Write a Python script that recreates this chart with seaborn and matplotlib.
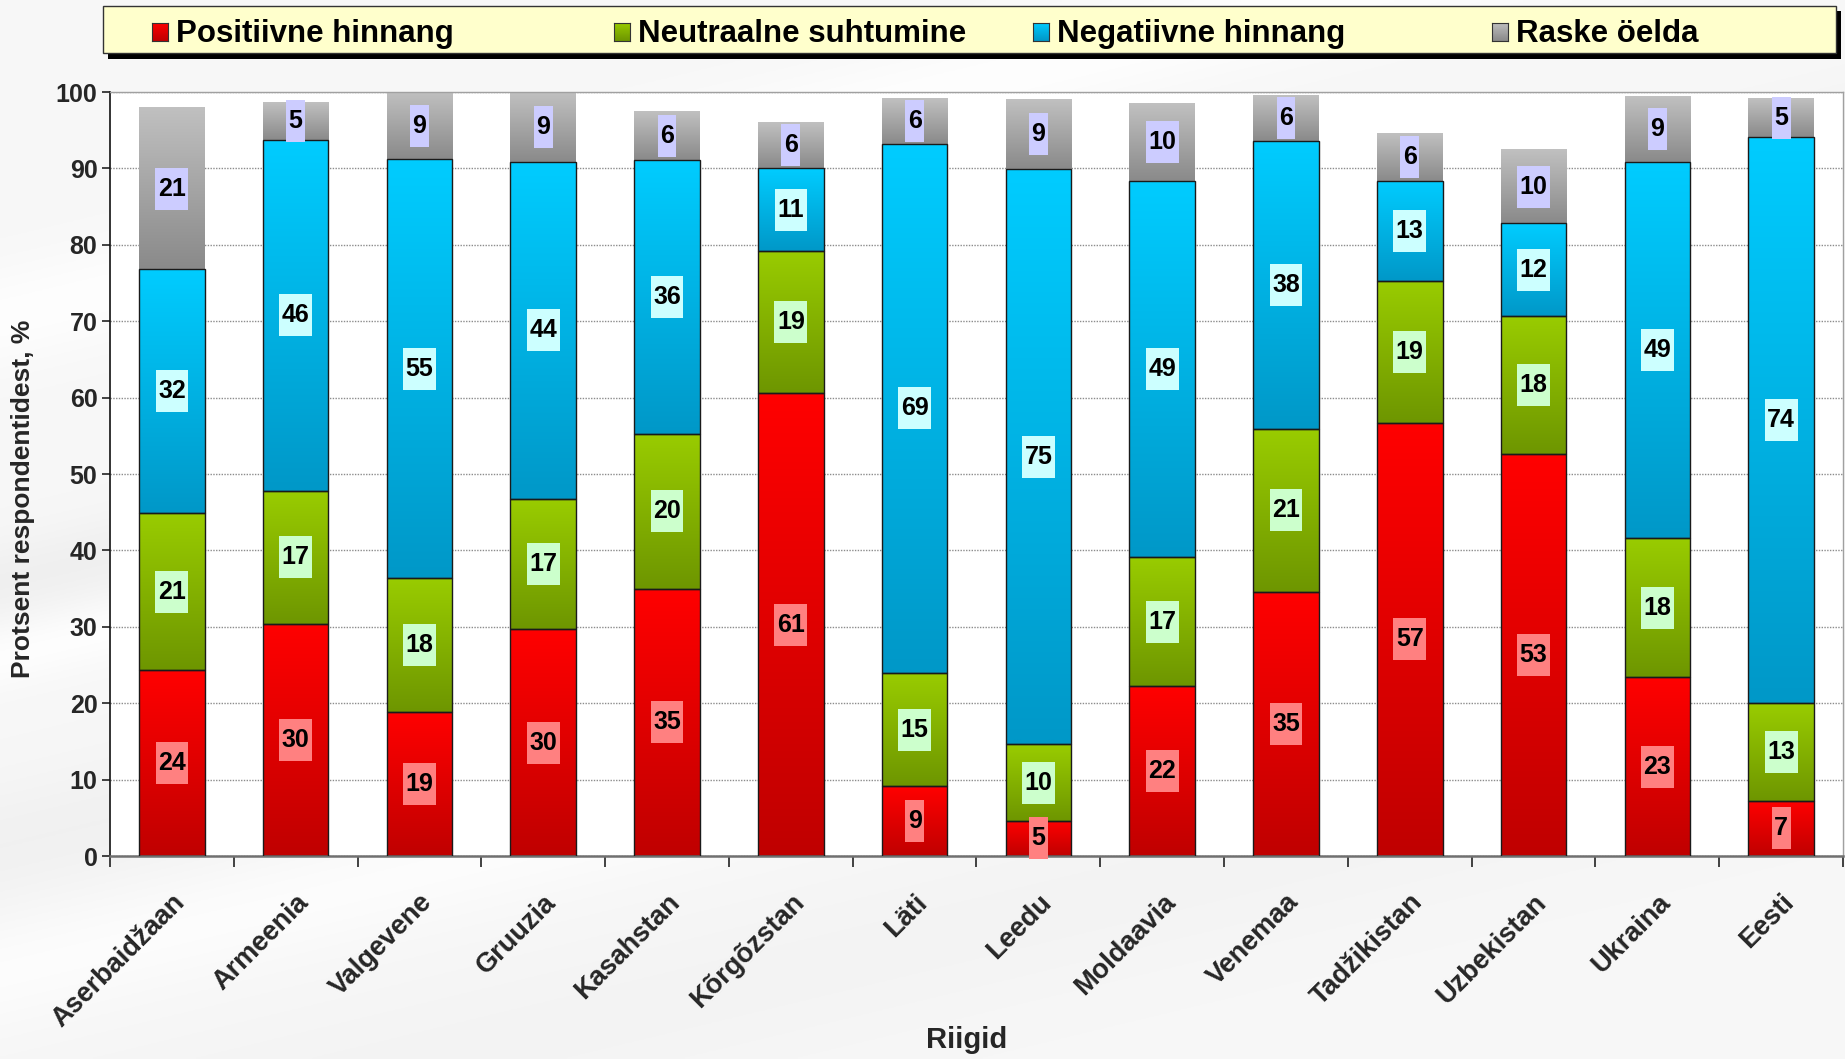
import numpy as np
import pandas as pd
import seaborn as sns
import matplotlib.pyplot as plt
from matplotlib.patches import Rectangle
from matplotlib.path import Path
from matplotlib.colors import to_rgb

# andmed (loetud jooniselt)
riigid = ['Aserbaidžaan', 'Armeenia', 'Valgevene', 'Gruuzia', 'Kasahstan', 'Kõrgõzstan', 'Läti',
          'Leedu', 'Moldaavia', 'Venemaa', 'Tadžikistan', 'Uzbekistan', 'Ukraina', 'Eesti']
positiivne = [24.3, 30.4, 18.8, 29.7, 35.0, 60.6, 9.1, 4.6, 22.2, 34.6, 56.7, 52.6, 23.4, 7.2]
neutraalne = [20.6, 17.4, 17.6, 17.0, 20.3, 18.6, 14.9, 10.0, 16.9, 21.3, 18.6, 18.1, 18.2, 12.8]
negatiivne = [31.9, 45.9, 54.8, 44.2, 35.8, 10.8, 69.2, 75.3, 49.3, 37.7, 13.1, 12.1, 49.3, 74.1]
raske = [21.1, 4.9, 8.8, 9.1, 6.3, 6.0, 5.9, 9.1, 10.2, 6.0, 6.2, 9.6, 8.6, 5.1]

seeriad = ['Positiivne hinnang', 'Neutraalne suhtumine', 'Negatiivne hinnang', 'Raske öelda']
vaartused = [positiivne, neutraalne, negatiivne, raske]
# (ülemine värv, alumine värv, sildi kast, serv)
varvid = [('#ff0000', '#c00000', '#ff8080', '#1a1a1a'),
          ('#99cc00', '#6e9600', '#ccffcc', '#1a1a1a'),
          ('#00ccff', '#0098c8', '#ccffff', '#1a1a1a'),
          ('#c0c0c0', '#8a8a8a', '#ccccff', 'none')]

sns.set_style('white')
plt.rcParams['font.family'] = ['Liberation Sans', 'DejaVu Sans']
plt.rcParams['font.weight'] = 'bold'

W, H = 1845, 1059
fig = plt.figure(figsize=(W / 100, H / 100), dpi=100)
fig.patch.set_facecolor('#f6f6f6')


def fx(px):
    return px / W


def fy(py):
    return 1 - py / H


# taust: heledad diagonaalsed triibud
bg = fig.add_axes([0, 0, 1, 1], zorder=-10)
yy, xx = np.mgrid[0:1:400j, 0:1:700j]
tone = np.full(xx.shape, 0.97)
for a, w, amp in [(0.30, 0.05, 0.025), (0.55, 0.04, -0.03), (0.62, 0.03, 0.025), (0.80, 0.06, -0.025),
                  (0.92, 0.05, 0.02), (1.10, 0.08, -0.015)]:
    tone += amp * np.exp(-((yy - a + 0.42 * xx) / w) ** 2)
tone = np.clip(tone, 0, 1)
bg.imshow(np.dstack([tone] * 3), extent=(0, 1, 0, 1), aspect='auto', origin='upper')
bg.axis('off')

ax = fig.add_axes([fx(110), fy(856), fx(1843) - fx(110), fy(92) - fy(856)])
ax.set_facecolor('white')

df = pd.DataFrame({'riik': riigid})
alus = np.zeros(len(riigid))


def label_box(x0, y0, width, height, mutation_size):
    px = 0.10 * mutation_size
    py = 0.36 * mutation_size
    return Path([(x0 - px, y0 - py), (x0 + width + px, y0 - py), (x0 + width + px, y0 + height + py),
                 (x0 - px, y0 + height + py), (x0 - px, y0 - py)], closed=True)


for nimi, vals, (c_top, c_bot, c_box, c_edge) in zip(seeriad, vaartused, varvid):
    df[nimi] = vals
    n0 = len(ax.patches)
    sns.barplot(data=df, x='riik', y=nimi, bottom=alus, color=c_top, width=0.53, errorbar=None,
                edgecolor=c_edge, linewidth=1.0, zorder=3, ax=ax)
    c1, c2 = np.array(to_rgb(c_top)), np.array(to_rgb(c_bot))
    t = np.linspace(0, 1, 64)[:, None]
    grad = (c1 * (1 - t) + c2 * t)[:, None, :]
    for p in ax.patches[n0:]:
        p.set_facecolor('none')
        x0, y0, w, h = p.get_x(), p.get_y(), p.get_width(), p.get_height()
        ax.imshow(grad, extent=(x0, x0 + w, y0, y0 + h), origin='upper', aspect='auto',
                  interpolation='bilinear', zorder=2.5)
    for i, v in enumerate(vals):
        ax.text(i, alus[i] + v / 2, f'{round(v)}', ha='center', va='center', fontsize=18,
                fontweight='bold', color='black', zorder=6,
                bbox=dict(boxstyle=label_box, facecolor=c_box, edgecolor='none'))
    alus = alus + np.array(vals)

ax.set_xlim(-0.5, len(riigid) - 0.5)
ax.set_ylim(0, 100)
ax.set_yticks(range(0, 101, 10))
ax.set_axisbelow(True)
ax.yaxis.grid(True, color='#8c8c8c', linestyle=(0, (1, 1)), linewidth=1.0)
ax.xaxis.grid(False)

ax.set_xticks(range(len(riigid)))
ax.set_xticklabels(riigid, rotation=45, ha='right', rotation_mode='anchor', fontsize=19.5, fontweight='bold')
ax.set_xticks(np.arange(-0.5, len(riigid), 1), minor=True)
ax.tick_params(axis='x', which='major', length=0, pad=24)
ax.tick_params(axis='x', which='minor', length=8, width=1.2, color='#222222', direction='out', bottom=True)
ax.tick_params(axis='y', length=6, width=1.2, color='#222222', direction='out', pad=3, left=True,
               labelsize=18)
for lab in ax.get_yticklabels():
    lab.set_fontweight('bold')

for s in ['top', 'right']:
    ax.spines[s].set_color('#a0a0a0')
    ax.spines[s].set_linewidth(1.0)
ax.spines['left'].set_color('#111111')
ax.spines['left'].set_linewidth(1.2)
ax.spines['bottom'].set_color('#707070')
ax.spines['bottom'].set_linewidth(1.8)

ax.set_ylabel('Protsent respondentidest, %', fontsize=19, fontweight='bold')
ax.yaxis.label.set_va('center')
ax.yaxis.set_label_coords(-0.050, 0.467)
ax.set_xlabel('Riigid', fontsize=21, fontweight='bold')
ax.xaxis.set_label_coords(0.4945, -0.241)
ax.xaxis.label.set_va('center')

# legend ülal kollases kastis
fig.add_artist(Rectangle((fx(108), fy(59)), fx(1841) - fx(108), fy(11) - fy(59), transform=fig.transFigure,
                         facecolor='black', edgecolor='none', zorder=1))
fig.add_artist(Rectangle((fx(103), fy(53)), fx(1836) - fx(103), fy(6) - fy(53), transform=fig.transFigure,
                         facecolor='#ffffcc', edgecolor='#333333', linewidth=1.0, zorder=2))
marker_x = [152, 614, 1033, 1492]
for mx, nimi, (c_top, c_bot, c_box, c_edge) in zip(marker_x, seeriad, varvid):
    lax = fig.add_axes([fx(mx), fy(41), fx(16), fy(23) - fy(41)], zorder=3)
    c1, c2 = np.array(to_rgb(c_top)), np.array(to_rgb(c_bot))
    t = np.linspace(0, 1, 16)[:, None]
    lax.imshow((c1 * (1 - t) + c2 * t)[:, None, :], aspect='auto', extent=(0, 1, 0, 1), origin='upper')
    lax.set_xticks([])
    lax.set_yticks([])
    for s in lax.spines.values():
        s.set_color('#333333')
        s.set_linewidth(0.8)
    fig.text(fx(mx + 24), fy(34), nimi, ha='left', va='center', fontsize=22.5, fontweight='bold',
             color='black', zorder=4)

fig.savefig('out.png', dpi=100, facecolor=fig.get_facecolor())
